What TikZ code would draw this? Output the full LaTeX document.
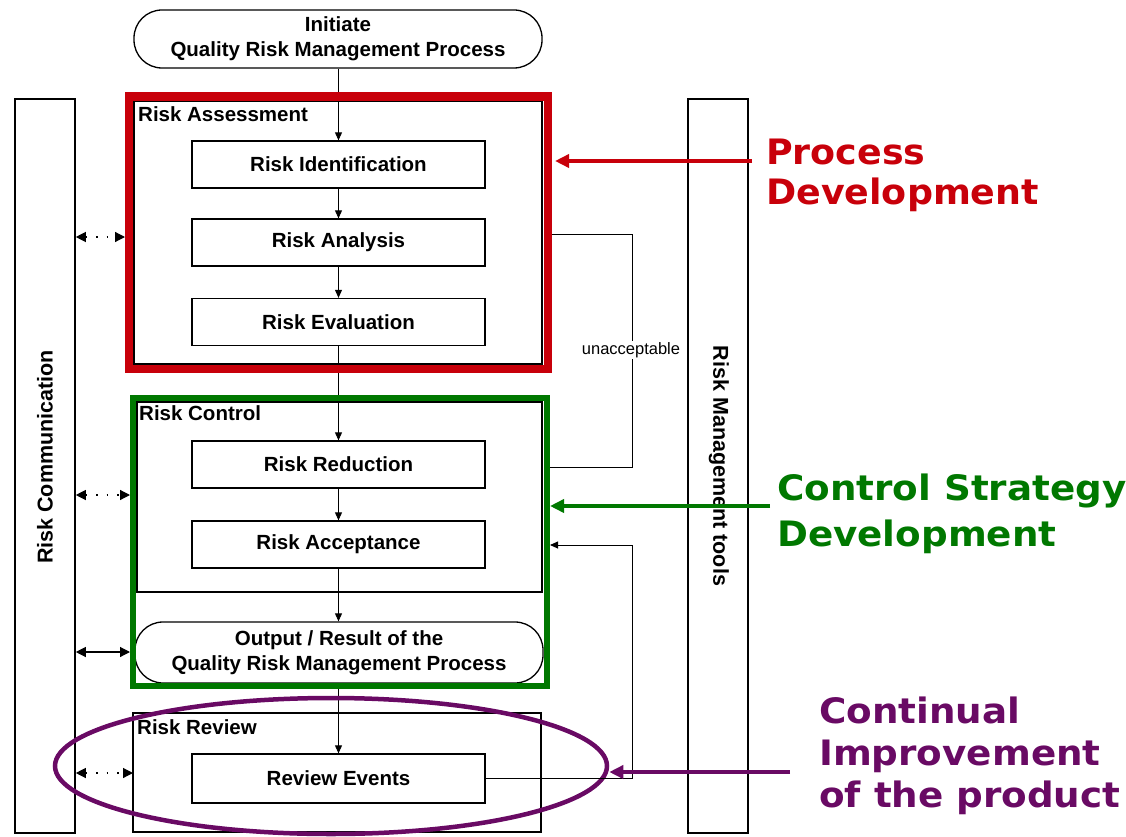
\documentclass[tikz,border=0pt]{standalone}
\usepackage{fontspec}
\setmainfont{Liberation Sans}
\newfontfamily\bigfont[FakeStretch=1.04]{DejaVu Sans}
\newfontfamily\widefont[FakeStretch=1.065]{DejaVu Sans}
\usepackage{xcolor}
\usetikzlibrary{arrows.meta,shapes.geometric}

\definecolor{pdred}{RGB}{200,0,10}
\definecolor{csgreen}{RGB}{0,120,0}
\definecolor{cipurple}{RGB}{105,10,100}

\tikzset{
  stepbox/.style={draw, line width=1.3pt, minimum width=293pt, minimum height=47pt,
    inner sep=0pt, font=\fontsize{20.5}{22}\selectfont\bfseries},
  terminal/.style={draw, line width=1.3pt, rounded corners=28pt, minimum width=408pt,
    inner sep=0pt, align=center, font=\fontsize{20.5}{25}\selectfont\bfseries},
  stage/.style={draw, line width=1.6pt, inner sep=0pt},
  stagelabel/.style={anchor=north west, inner sep=0pt, font=\fontsize{20.5}{22}\selectfont\bfseries},
  bar/.style={draw, line width=1.6pt, minimum width=60pt, minimum height=734pt, inner sep=0pt},
  bartext/.style={font=\fontsize{21.5}{22}\selectfont\bfseries},
  flow/.style={line width=0.9pt, -{Triangle[length=8pt,width=7pt]}},
  talk/.style={line width=1.2pt, {Triangle[length=10pt,width=10pt]}-{Triangle[length=10pt,width=10pt]}},
  dots/.style={dash pattern=on 1.5pt off 9pt},
  callout/.style={line width=4pt, -{Triangle[length=14pt,width=13pt]}},
  bigtext/.style={anchor=north west, align=left, inner sep=0pt}
}

\begin{document}
\begin{tikzpicture}[x=1pt,y=-1pt]
\useasboundingbox (0,0) rectangle (1126,837);

% side bars
\node[bar] (comm) at (45,466) {};
\node[bartext, rotate=90] (commtext) at (45,457) {Risk Communication};
\node[bar] (tools) at (718,466) {};
\node[bartext, rotate=-90] (toolstext) at (719,466) {Risk Management tools};

% start
\node[terminal, minimum height=58pt] (init) at (338,39) {Initiate\\Quality Risk Management Process};

% assessment
\node[stage, minimum width=408pt, minimum height=263pt] (assess) at (338,232.5) {};
\node[stagelabel] (assesslabel) at (138,106) {Risk Assessment};
\node[stepbox] (ident) at (338.5,164.5) {Risk Identification};
\node[stepbox] (analysis) at (338.5,242.5) {Risk Analysis};
\node[stepbox] (evaluation) at (338.5,322) {Risk Evaluation};

% control
\node[stage, minimum width=405pt, minimum height=190pt] (control) at (339.5,497) {};
\node[stagelabel] (controllabel) at (139,405) {Risk Control};
\node[stepbox] (reduction) at (338.5,464.5) {Risk Reduction};
\node[stepbox] (acceptance) at (338.5,544.5) {Risk Acceptance};

% output
\node[terminal, minimum height=61pt] (output) at (339,652.5) {Output / Result of the\\Quality Risk Management Process};

% review
\node[stage, minimum width=408pt, minimum height=119pt] (review) at (337,772.5) {};
\node[stagelabel] (reviewlabel) at (137,719) {Risk Review};
\node[stepbox, minimum height=49pt] (events) at (338.5,778.5) {Review Events};

% main flow
\draw[flow] (init.south -| ident.north) -- (ident.north);
\draw[flow] (ident) -- (analysis);
\draw[flow] (analysis) -- (evaluation);
\draw[flow] (evaluation) -- (reduction);
\draw[flow] (reduction) -- (acceptance);
\draw[flow] (acceptance.south) -- (output.north -| acceptance.south);
\draw[flow] (output.south -| events.north) -- (events.north);

% coloured frames
\draw[pdred, line width=8.5pt] (129,96.5) rectangle (548,369);
\node[draw=csgreen, line width=6pt, minimum width=414pt, minimum height=288pt, inner sep=0pt] (green) at (340,542) {};
\node[draw=cipurple, line width=4.5pt, ellipse, minimum width=552pt, minimum height=136pt, inner sep=0pt] (improve) at (331,766) {};

% loops
\coordinate (unaccA) at (552,234);
\coordinate (unaccB) at (632,234);
\coordinate (unaccC) at (632,467);
\coordinate (unaccD) at (550,467);
\draw[line width=0.9pt] (unaccA) -- (unaccB) -- (unaccC) -- (unaccD);
\node[fill=white, inner sep=1pt, font=\fontsize{16.5}{18}\selectfont] (unacc) at (631,350) {unacceptable};
\coordinate (backA) at (632,778.5);
\coordinate (backB) at (632,545);
\coordinate (backC) at (550,545);
\draw[line width=0.9pt] (events.east) -- (backA) -- (backB);
\draw[flow] (backB) -- (backC);

% communication
\draw[talk, dots] (comm.east |- 0,237) -- (125,237);
\draw[talk, dots] (comm.east |- 0,495) -- (130,495);
\draw[talk] (comm.east |- 0,652) -- (130,652);
\draw[talk, dots] (comm.east |- 0,773) -- (133,773);

% callouts
\coordinate (pdstart) at (752,161);
\coordinate (csstart) at (770,506);
\coordinate (cistart) at (790,772);
\draw[callout, pdred] (pdstart) -- (555,161);
\draw[callout, csgreen] (csstart) -- (green.east |- csstart);
\draw[callout, cipurple] (cistart) -- (improve.east |- cistart);
\node[bigtext, text=pdred, font=\bigfont\fontsize{35}{40}\selectfont\bfseries] (pdtext) at (766,139) {Process\\Development};
\node[bigtext, text=csgreen, font=\widefont\fontsize{35}{46}\selectfont\bfseries] (cstext) at (777,474) {Control Strategy\\Development};
\node[bigtext, text=cipurple, font=\widefont\fontsize{35}{42}\selectfont\bfseries] (citext) at (819,697) {Continual\\Improvement\\of the product};
\end{tikzpicture}
\end{document}
